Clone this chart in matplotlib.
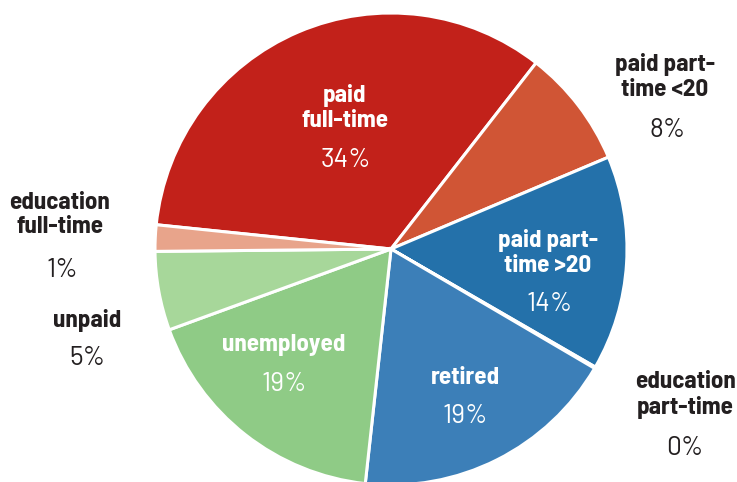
import matplotlib
matplotlib.use("Agg")
import matplotlib.pyplot as plt

label_font = ['Barlow Semi Condensed', 'DejaVu Sans']
pct_font = ['Barlow', 'DejaVu Sans']

# slices, clockwise from the left
categories = ["paid\nfull-time", "paid part-\ntime <20", "paid part-\ntime >20",
              "education\npart-time", "retired", "unemployed", "unpaid",
              "education\nfull-time"]
values = [33.9, 8.1, 14.7, 0.1, 18.3, 17.7, 5.4, 1.8]
pct_labels = ["34%", "8%", "14%", "0%", "19%", "19%", "5%", "1%"]
colors = ["#c2211a", "#d05535", "#2471aa", "#2471aa", "#3c7fb8",
          "#8fcb86", "#a7d79a", "#e8a48b"]

# label placement in pixels (name centre, percent centre)
label_px = [(345, 108), (665, 77), (548, 253), (685, 395),
            (465, 378), (284, 345), (87, 320), (60, 215)]
pct_px = [(346, 160), (668, 130), (550, 304), (685, 448),
          (465, 416), (284, 384), (87, 358), (62, 270)]
inside = [True, False, True, False, True, True, False, False]

W, H = 737, 482
cx, cy, r = 391, 249, 236

fig = plt.figure(figsize=(W / 100, H / 100), dpi=100)
ax = fig.add_axes([0, 0, 1, 1])

ax.pie(values, colors=colors, startangle=174.1, counterclock=False,
       radius=1, center=(0, 0),
       wedgeprops=dict(edgecolor="white", linewidth=2.2))


def to_data(p):
    return (p[0] - cx) / r, (cy - p[1]) / r


for i, name in enumerate(categories):
    c = "white" if inside[i] else "#231f20"
    x, y = to_data(label_px[i])
    ax.text(x, y, name, ha="center", va="center", fontsize=18,
            fontweight="bold", color=c, linespacing=1.12, family=label_font)
    x, y = to_data(pct_px[i])
    ax.text(x, y, pct_labels[i], ha="center", va="center", fontsize=19,
            color=c, family=pct_font)

ax.set_xlim(-cx / r, (W - cx) / r)
ax.set_ylim((cy - H) / r, cy / r)
ax.set_aspect("auto")
ax.axis("off")

fig.savefig("out.png", dpi=100)
